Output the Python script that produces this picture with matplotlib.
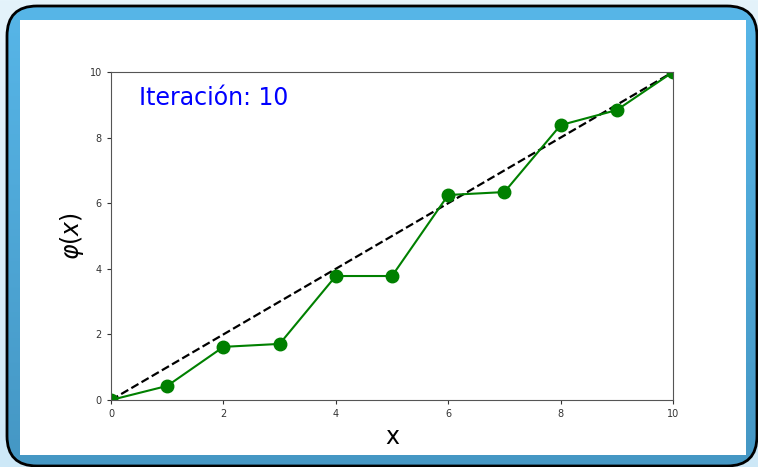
import numpy as np
import matplotlib.pyplot as plt
from matplotlib.colors import LinearSegmentedColormap
from matplotlib.patches import FancyBboxPatch, Rectangle

# data
x_vals = [0, 1, 2, 3, 4, 5, 6, 7, 8, 9, 10]
phi_vals = [0.0, 0.43, 1.62, 1.71, 3.78, 3.78, 6.25, 6.34, 8.38, 8.84, 10.0]
ident_x = [0, 10]
ident_y = [0, 10]
xticks = [0, 2, 4, 6, 8, 10]
yticks = [0, 2, 4, 6, 8, 10]
title_text = 'Iteración: 10'

W, H = 758, 467
fig = plt.figure(figsize=(W / 100, H / 100), dpi=100)

# slide background
bg = fig.add_axes([0, 0, 1, 1])
bg.set_xlim(0, W)
bg.set_ylim(H, 0)
bg.axis('off')
grad = np.linspace(0, 1, 256).reshape(-1, 1)
bg.imshow(grad, cmap=LinearSegmentedColormap.from_list('bgc', ['#e4f3fb', '#cde8f7']),
          extent=[0, W, H, 0], aspect='auto', zorder=0)
frame = FancyBboxPatch((7, 6), 750, 460, boxstyle='round,pad=0,rounding_size=30',
                       facecolor='none', edgecolor='none', lw=0)
bg.add_patch(frame)
img = bg.imshow(grad, cmap=LinearSegmentedColormap.from_list('fr', ['#57b6e8', '#4597c4']),
                extent=[7, 757, 466, 6], aspect='auto', zorder=1)
img.set_clip_path(frame)
bg.add_patch(FancyBboxPatch((7, 6), 750, 460, boxstyle='round,pad=0,rounding_size=30',
                            facecolor='none', edgecolor='black', lw=2, zorder=2))
bg.add_patch(Rectangle((20, 20), 726, 435, facecolor='white', edgecolor='none', zorder=3))

# chart
ax = fig.add_axes([111 / W, 67 / H, 562 / W, 328 / H])
ax.plot(ident_x, ident_y, 'k--', lw=1.6)
ax.plot(x_vals, phi_vals, color='green', lw=1.5, marker='o', markersize=9)
ax.set_xlim(0, 10)
ax.set_ylim(0, 10)
ax.set_xticks(xticks)
ax.set_yticks(yticks)
ax.tick_params(labelsize=7, colors='#333333', length=3)
for s in ax.spines.values():
    s.set_color('#555555')
ax.set_xlabel('x', fontsize=17, labelpad=4)
ax.set_ylabel(r'$\varphi(x)$', fontsize=17, labelpad=3)
ax.text(0.05, 0.92, title_text, transform=ax.transAxes, color='blue',
        fontsize=17, va='center')

fig.savefig('out.png', dpi=100)
